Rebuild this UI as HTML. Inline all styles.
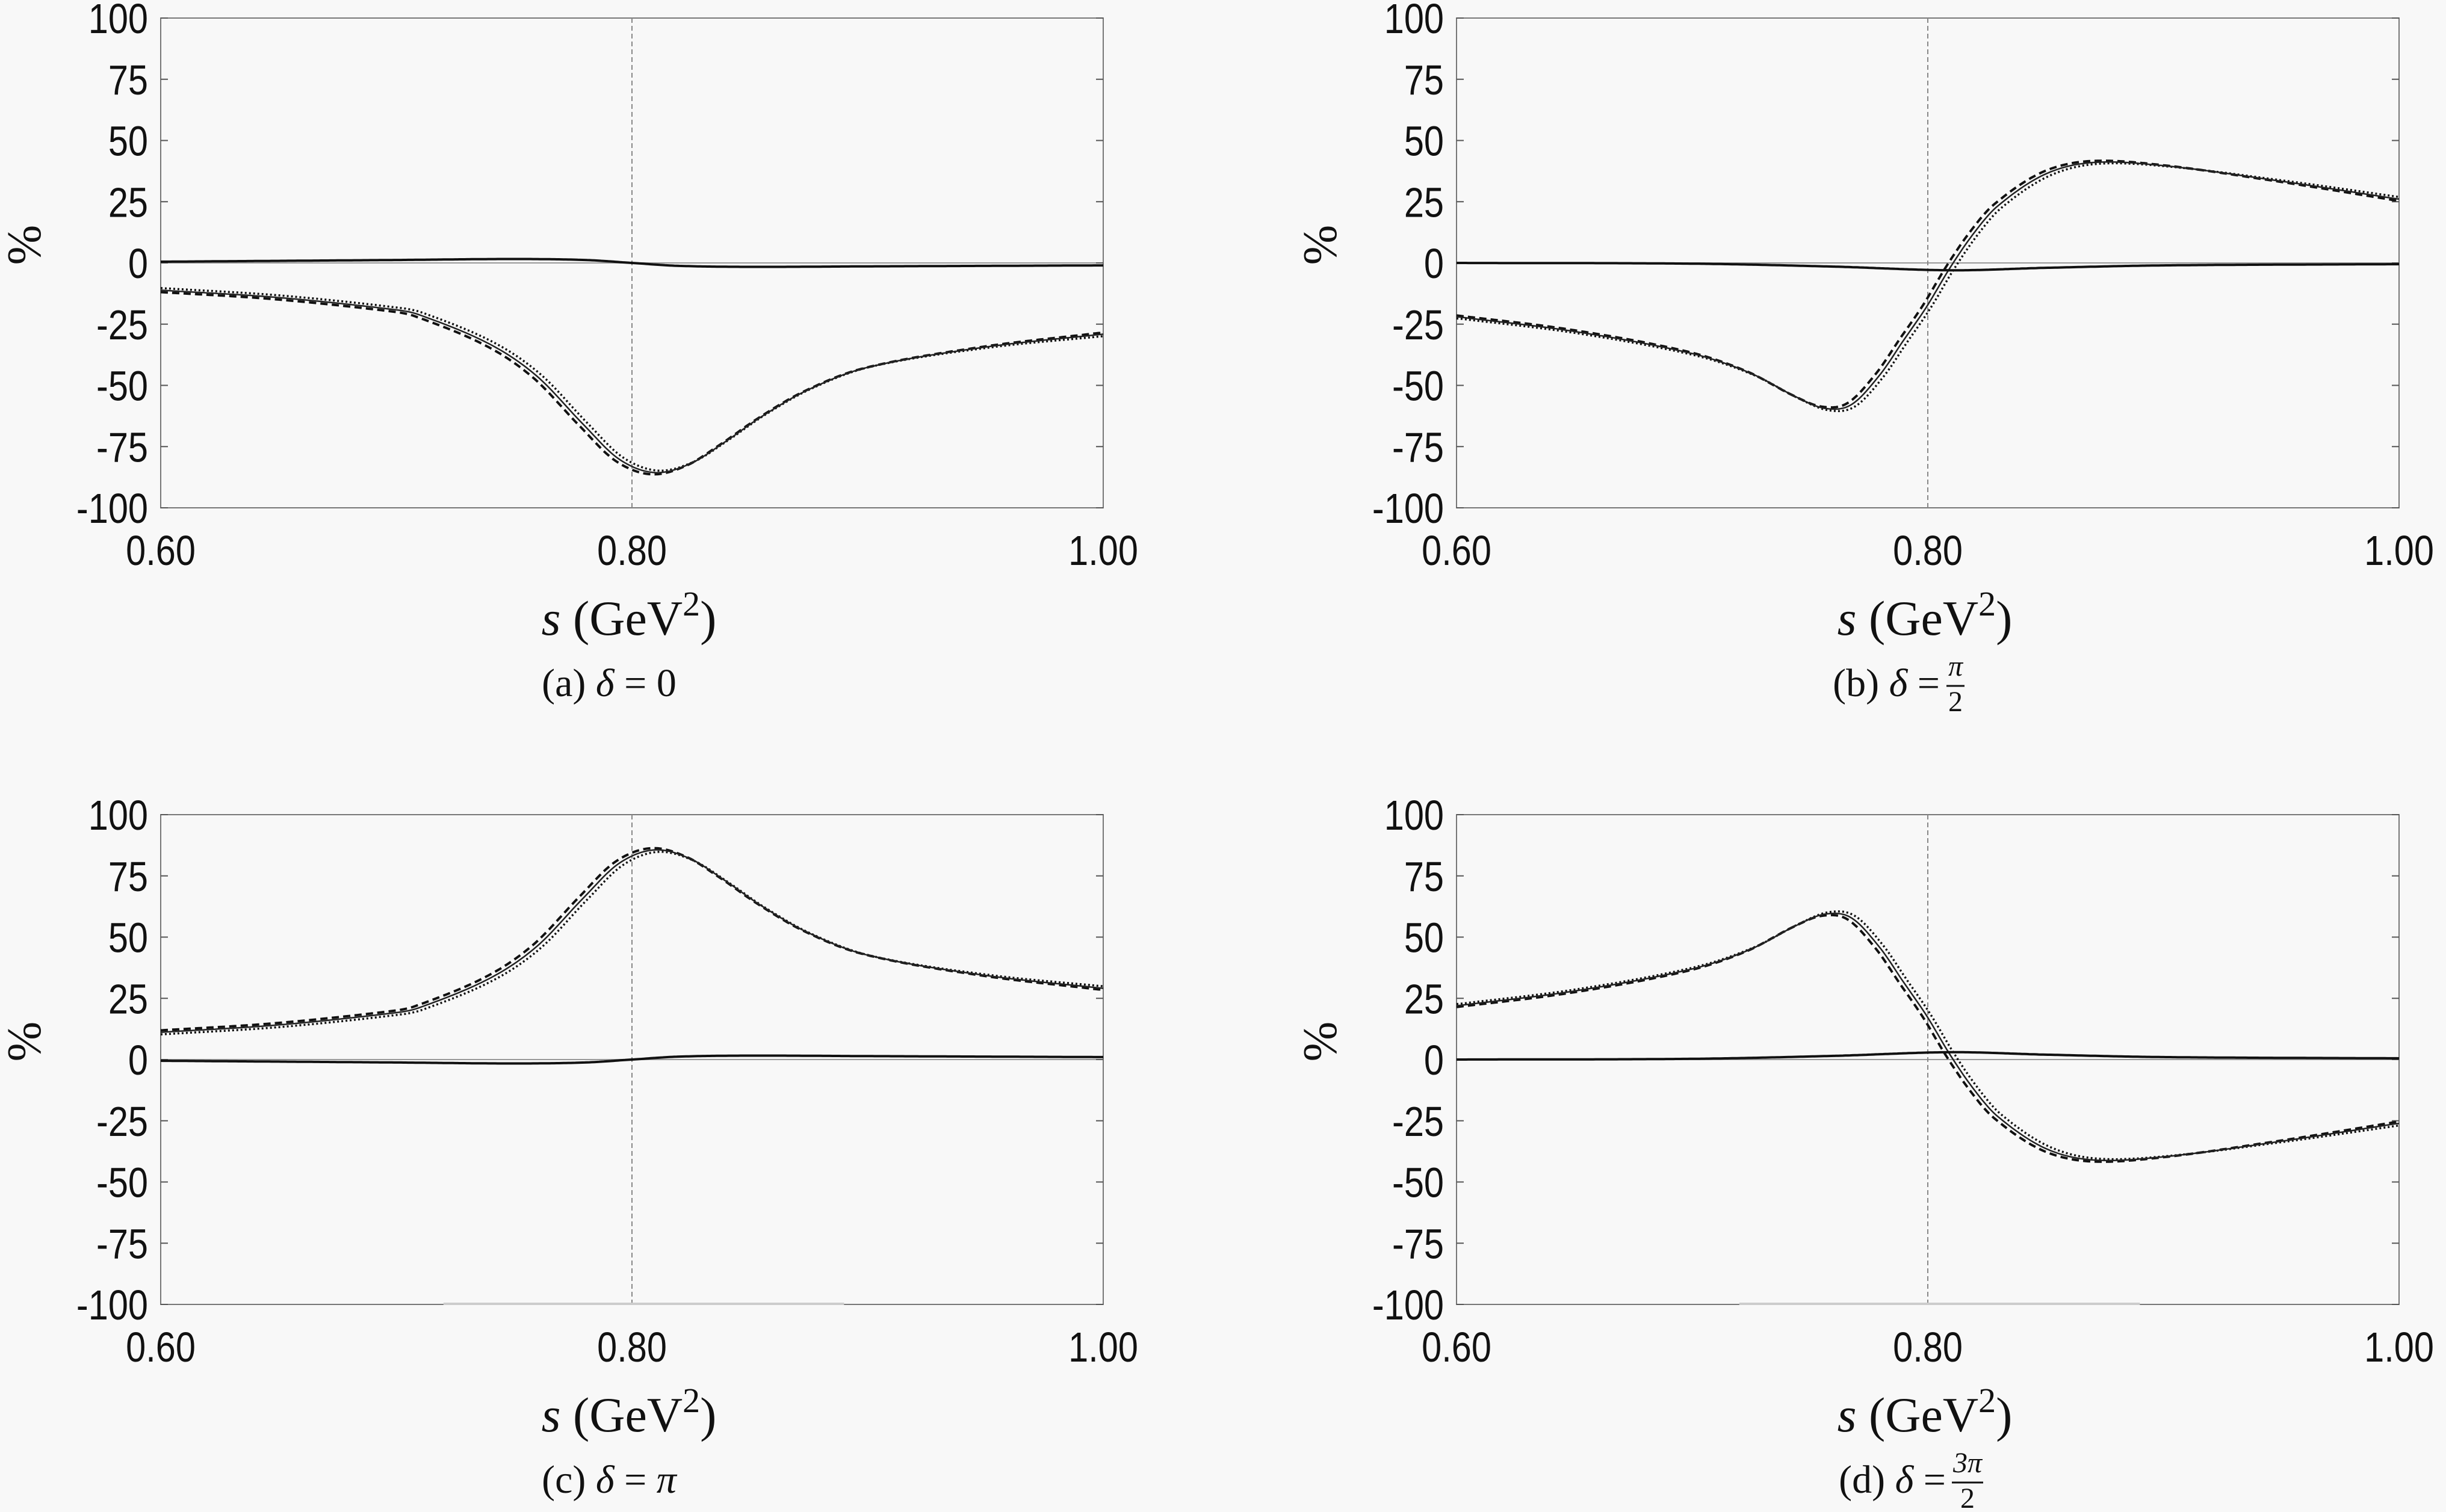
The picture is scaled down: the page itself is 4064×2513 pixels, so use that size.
<!DOCTYPE html>
<html><head><meta charset="utf-8">
<style>
html,body{margin:0;padding:0;background:#f8f8f8;}
svg{display:block;}
</style></head>
<body>
<svg id="s" xmlns="http://www.w3.org/2000/svg" width="4064" height="2513" viewBox="0 0 4064 2513">
<rect width="4064" height="2513" fill="#f8f8f8"/>
</svg>
<script>
const NS="http://www.w3.org/2000/svg";
const svg=document.getElementById('s');
function el(t,a,txt){const e=document.createElementNS(NS,t);for(const k in a)e.setAttribute(k,a[k]);if(txt!==undefined)e.textContent=txt;svg.appendChild(e);return e;}
const A=[[0.60,-11],[0.65,-14],[0.70,-19],[0.71,-21],[0.74,-33],[0.76,-46],[0.78,-66],[0.795,-80],[0.81,-85.5],[0.825,-82],[0.84,-73],[0.855,-63],[0.875,-52],[0.90,-43],[0.95,-35],[1.00,-30]];
const D=[[0.60,22],[0.65,28],[0.70,37],[0.725,45],[0.745,55],[0.757,59.5],[0.768,58],[0.78,46],[0.79,32],[0.80,18],[0.81,2],[0.82,-12],[0.83,-23],[0.85,-36],[0.87,-41],[0.90,-40],[0.95,-34],[1.00,-27]];
const SA=[[0.6,0.5],[0.7,1.2],[0.75,1.6],[0.78,1.2],[0.80,0],[0.82,-1.2],[0.85,-1.6],[0.9,-1.4],[1.0,-1]];
const SD=[[0.6,0],[0.7,0.3],[0.76,1.5],[0.81,3],[0.85,2],[0.9,1],[1.0,0.5]];
function interp(P,s){
  if(s<=P[0][0])return P[0][1]; if(s>=P[P.length-1][0])return P[P.length-1][1];
  let i=0;while(P[i+1][0]<s)i++;
  const p0=P[Math.max(i-1,0)],p1=P[i],p2=P[i+1],p3=P[Math.min(i+2,P.length-1)];
  const t=(s-p1[0])/(p2[0]-p1[0]);const h=p2[0]-p1[0];
  const m1=(p2[1]-p0[1])/(p2[0]-p0[0])*h, m2=(p3[1]-p1[1])/(p3[0]-p1[0])*h;
  const t2=t*t,t3=t2*t;
  return (2*t3-3*t2+1)*p1[1]+(t3-2*t2+t)*m1+(-2*t3+3*t2)*p2[1]+(t3-t2)*m2;
}
const panels=[
 {L:267,T:30,f:s=>interp(A,s),g:s=>interp(SA,s),cap:"(a) ",rhs:"0",sgn:1},
 {L:2420,T:30,f:s=>-interp(D,s),g:s=>-interp(SD,s),cap:"(b) ",frac:["π","2"],sgn:-1},
 {L:267,T:1354,f:s=>-interp(A,s),g:s=>-interp(SA,s),cap:"(c) ",rhs:"π",italic:true,sgn:-1},
 {L:2420,T:1354,f:s=>interp(D,s),g:s=>interp(SD,s),cap:"(d) ",frac:["3π","2"],sgn:1},
];
const W=1566,H=814;
panels.forEach((p,idx)=>{
  const X=s=>p.L+(s-0.6)/0.4*W, Y=v=>p.T+H/2-v*H/200;
  el('rect',{x:p.L,y:p.T,width:W,height:H,fill:'none',stroke:'#777','stroke-width':2});
  el('line',{x1:p.L,x2:p.L+W,y1:Y(0),y2:Y(0),stroke:'#999','stroke-width':2});
  el('line',{x1:X(0.8),x2:X(0.8),y1:p.T,y2:p.T+H,stroke:'#888','stroke-width':2,'stroke-dasharray':'8 5'});
  if(idx>=2) el('line',{x1:X(0.72),x2:X(0.89),y1:p.T+H-1,y2:p.T+H-1,stroke:'#ccc','stroke-width':4});
  for(let v=-100;v<=100;v+=25){
    const y=Y(v);
    el('line',{x1:p.L,x2:p.L+12,y1:y,y2:y,stroke:'#555','stroke-width':2});
    el('line',{x1:p.L+W-12,x2:p.L+W,y1:y,y2:y,stroke:'#555','stroke-width':2});
    el('text',{x:0,y:0,transform:`translate(${p.L-21},${y+25}) scale(0.85,1)`,'text-anchor':'end','font-family':'Liberation Sans, sans-serif','font-size':70,fill:'#111'},String(v));
  }
  [[0.6,"0.60"],[0.8,"0.80"],[1.0,"1.00"]].forEach(([s,t])=>el('text',{x:0,y:0,transform:`translate(${X(s)},${p.T+H+95}) scale(0.85,1)`,'text-anchor':'middle','font-family':'Liberation Sans, sans-serif','font-size':70,fill:'#111'},t));
  el('text',{x:0,y:0,transform:`translate(${p.L-200},${p.T+H/2-30}) rotate(-90)`,'text-anchor':'middle','font-family':'Liberation Serif, serif','font-size':80,fill:'#111'},'%');
  function path(fn,dx,dy,tail){let d='';for(let i=0;i<=400;i++){const s=0.6+i*0.001;const v=fn(Math.min(1,Math.max(0.6,s+dx)))+dy+(tail||0)*Math.max(0,(s-0.85)/0.15);d+=(i?'L':'M')+X(s).toFixed(1)+' '+Y(v).toFixed(1);}return d;}
  el('path',{d:path(p.f,-0.001,0.7*p.sgn,-0.5*p.sgn),fill:'none',stroke:'#111','stroke-width':3.5,'stroke-dasharray':'3 4'});
  el('path',{d:path(p.f,0.002,-0.8*p.sgn,2.2*p.sgn),fill:'none',stroke:'#111','stroke-width':4,'stroke-dasharray':'12 7'});
  el('path',{d:path(p.f,0.0005,-0.1*p.sgn,1*p.sgn),fill:'none',stroke:'#222','stroke-width':2.5});
  el('path',{d:path(p.g,0,0),fill:'none',stroke:'#111','stroke-width':4});
  const cx=p.L+W/2;
  const xl=el('text',{x:cx-5,y:p.T+H+211,'text-anchor':'middle','font-family':'Liberation Serif, serif','font-size':82,fill:'#111'});
  xl.innerHTML='<tspan font-style="italic">s</tspan> (GeV<tspan dy="-32" font-size="58">2</tspan><tspan dy="32">)</tspan>';
  const by=p.T+H+313;
  const ct=el('text',{x:cx-38,y:by,'text-anchor':'middle','font-family':'Liberation Serif, serif','font-size':66,fill:'#111'});
  if(p.frac){
    ct.setAttribute('text-anchor','end');ct.setAttribute('x',cx+(p.frac[0].length>1?30:20));
    ct.innerHTML=p.cap+'<tspan font-style="italic">δ</tspan> = ';
    const fx=cx+(p.frac[0].length>1?66:46);
    el('text',{x:fx,y:by-34,'text-anchor':'middle','font-family':'Liberation Serif, serif','font-size':48,'font-style':'italic',fill:'#111'},p.frac[0]);
    el('line',{x1:fx-(p.frac[0].length>1?26:15),x2:fx+(p.frac[0].length>1?26:15),y1:by-17,y2:by-17,stroke:'#111','stroke-width':3});
    el('text',{x:fx,y:by+25,'text-anchor':'middle','font-family':'Liberation Serif, serif','font-size':48,fill:'#111'},p.frac[1]);
  } else {
    ct.innerHTML=p.cap+'<tspan font-style="italic">δ</tspan> = '+(p.italic?'<tspan font-style="italic">'+p.rhs+'</tspan>':p.rhs);
  }
});
</script>
</body></html>
